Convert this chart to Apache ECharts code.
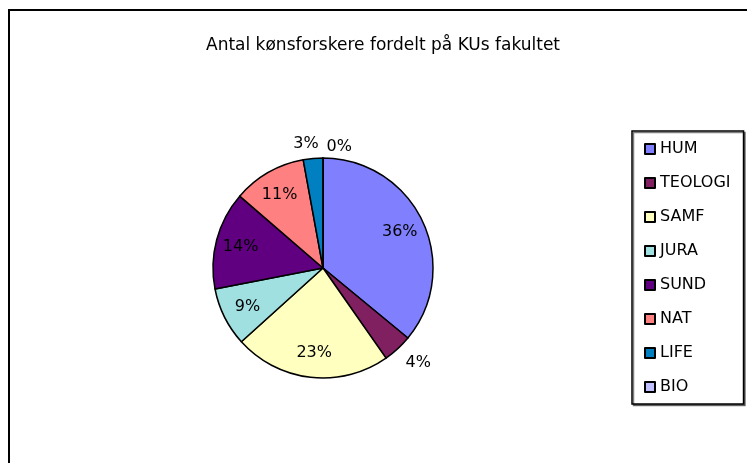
<!DOCTYPE html>
<html>
<head>
<meta charset="utf-8">
<script src="https://cdn.jsdelivr.net/npm/echarts@6/dist/echarts.min.js"></script>
<style>html,body{margin:0;padding:0;background:#fff;}#c{width:747px;height:463px;}</style>
</head>
<body>
<div id="c"></div>
<script>
// ---- data ----
const titleText = 'Antal kønsforskere fordelt på KUs fakultet';
const categories = ['HUM', 'TEOLOGI', 'SAMF', 'JURA', 'SUND', 'NAT', 'LIFE', 'BIO'];
const values = [50, 6, 32, 12, 20, 15, 4, 0];
const colors = ['#8080FF', '#802060', '#FFFFC0', '#A0E0E0', '#600080', '#FF8080', '#0080C0', '#C0C0FF'];
const labelInside = [true, false, true, true, true, true, false, false];

const FONT = 'DejaVu Sans';
const center = [323, 268];
const labelRadius = 164;

const lineLen = { 1: [19, -10], 6: [15, -12] };

const mainData = categories.map((name, i) => ({
  name: name,
  value: values[i],
  itemStyle: { color: colors[i] },
  label: { show: !labelInside[i] && values[i] > 0 },
  labelLine: { show: false, length: lineLen[i] ? lineLen[i][0] : 10, length2: lineLen[i] ? lineLen[i][1] : 0 }
}));
// invisible helper series that only carries labels (inside labels + zero-value labels)
const labelData = categories.map((name, i) => {
  const item = { name: name, value: values[i], label: { show: labelInside[i] || values[i] === 0 } };
  if (values[i] === 0) {
    item.label.position = 'outside';
    item.labelLine = { show: false, length: 121 - labelRadius, length2: -35 };
  }
  return item;
});

const chart = echarts.init(document.getElementById('c'), null, { renderer: 'canvas' });
chart.setOption({
  animation: false,
  backgroundColor: '#fff',
  title: {
    text: titleText,
    left: 206, top: 37, padding: 0,
    textStyle: { fontFamily: FONT, fontSize: 17, fontWeight: 'normal', color: '#000' }
  },
  legend: {
    orient: 'vertical',
    left: 632, top: 131,
    padding: [10, 13, 9, 12],
    itemWidth: 10, itemHeight: 10, itemGap: 18,
    icon: 'rect',
    borderColor: '#000', borderWidth: 1.5,
    backgroundColor: '#fff',
    shadowColor: 'rgba(0,0,0,0.5)', shadowOffsetX: 1.5, shadowOffsetY: 1.5, shadowBlur: 0,
    textStyle: { fontFamily: FONT, fontSize: 16, color: '#000' },
    data: categories
  },
  graphic: [{
    type: 'rect', silent: true,
    shape: { x: 9, y: 10, width: 800, height: 520 },
    style: { fill: 'none', stroke: '#000', lineWidth: 2 }
  }],
  series: [{
    type: 'pie',
    center: center, radius: 110,
    startAngle: 90, clockwise: true,
    avoidLabelOverlap: false,
    percentPrecision: 0,
    itemStyle: { borderColor: '#000', borderWidth: 1.5 },
    label: { position: 'outside', formatter: '{d}%', fontFamily: FONT, fontSize: 16, color: '#000' },
    labelLine: { show: false },
    emphasis: { disabled: true },
    data: mainData
  }, {
    type: 'pie',
    center: center, radius: labelRadius,
    startAngle: 90, clockwise: true,
    avoidLabelOverlap: false,
    minAngle: 1,
    percentPrecision: 0,
    silent: true,
    legendHoverLink: false,
    itemStyle: { color: 'rgba(0,0,0,0)', borderWidth: 0 },
    label: { position: 'inside', formatter: '{d}%', fontFamily: FONT, fontSize: 16, color: '#000' },
    labelLine: { show: false },
    emphasis: { disabled: true },
    data: labelData
  }]
});
</script>
</body>
</html>
